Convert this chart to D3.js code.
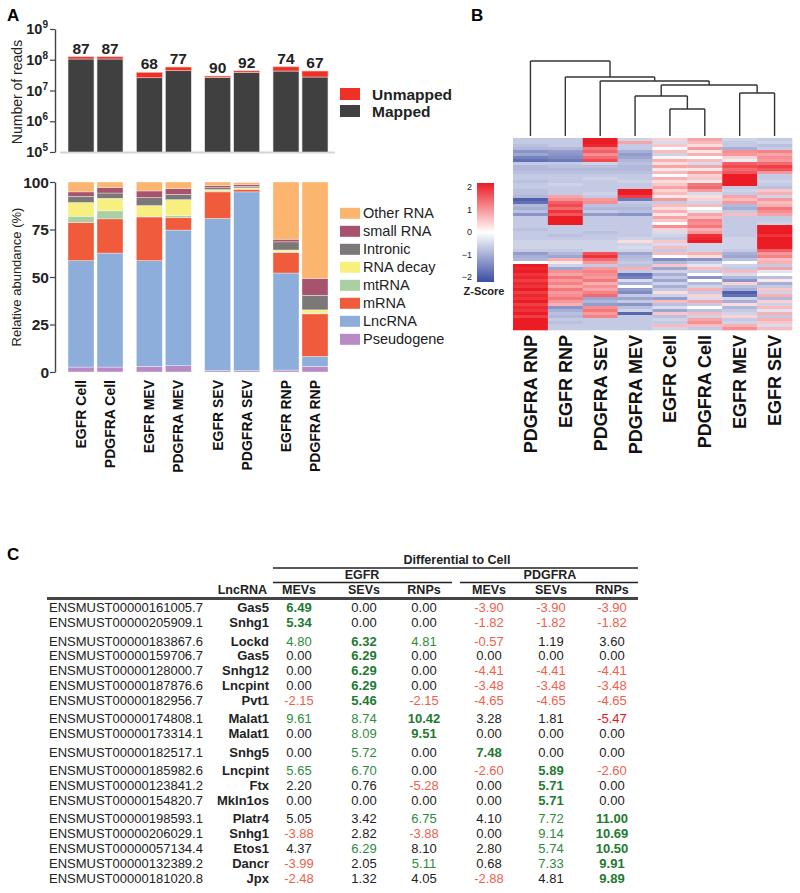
<!DOCTYPE html>
<html><head><meta charset="utf-8">
<script src="https://cdn.jsdelivr.net/npm/d3@7"></script>
<style>body{margin:0;background:#fff;} svg{display:block;font-family:"Liberation Sans",Arial,Helvetica,sans-serif;}</style>
</head><body><svg id="fig" width="800" height="893"></svg>
<script>
// ---------- DATA ----------
const samples = ["EGFR Cell","PDGFRA Cell","EGFR MEV","PDGFRA MEV","EGFR SEV","PDGFRA SEV","EGFR RNP","PDGFRA RNP"];
const sampleGroup = ["Cell","Cell","MEV","MEV","SEV","SEV","RNP","RNP"];
const groups = ["Cell","MEV","SEV","RNP"];
const mappedReads = [1.06e8,1.06e8,2.6e7,4.4e7,2.65e7,3.9e7,4.3e7,2.75e7];
const unmappedReads = [1.9e7,1.9e7,1.3e7,1.4e7,0.3e7,0.45e7,1.6e7,1.55e7];
const mappedPct = [87,87,68,77,90,92,74,67];
const readTicks = [1e5,1e6,1e7,1e8,1e9];
const readExps = ["5","6","7","8","9"];

const rnaTypes = ["Pseudogene","LncRNA","mRNA","mtRNA","RNA decay","Intronic","small RNA","Other RNA"];
const pseudogene = [2.6,2.6,3.0,3.3,0.7,0.7,1.0,3.0];
const lncRNA     = [56.0,60.0,55.6,71.4,80.1,94.1,51.1,5.2];
const mRNA       = [20.1,18.0,23.0,6.6,14.0,1.4,10.7,22.4];
const mtRNA      = [3.3,4.2,0.4,1.0,0.5,0.1,0.5,0.4];
const rnaDecay   = [7.2,6.6,5.6,8.4,0.7,0.6,0.9,1.7];
const intronic   = [3.3,2.8,4.2,2.8,1.0,0.8,4.3,7.7];
const smallRNA   = [2.3,3.0,3.5,3.0,1.1,1.1,1.4,8.7];
const otherRNA   = [5.2,2.8,4.7,3.5,1.9,0.9,30.1,50.9];
const rnaColors  = ["#B98BC6","#8DAEDB","#F05C3B","#A9CFA2","#F8F07E","#7B7877","#A8536E","#FCB56E"];
const pctTicks = [0,25,50,75,100];

const heatSamples = ["PDGFRA RNP","EGFR RNP","PDGFRA SEV","PDGFRA MEV","EGFR Cell","PDGFRA Cell","EGFR MEV","EGFR SEV"];
const zScores = [
[-0.6,-0.6,2.2,-0.5,0.4,0.8,-0.5,-0.6],
[-0.6,-0.6,2.1,0.8,-0.4,0.6,-0.6,-0.5],
[-0.7,-0.6,1.9,-0.6,0.5,0.3,-0.6,-0.7],
[-0.8,-0.8,1.2,-0.6,0.0,0.9,-0.9,-0.6],
[-1.2,-1.1,1.4,-0.9,0.6,0.2,1.0,1.1],
[-1.0,-1.2,1.0,-1.1,-0.5,0.7,0.9,0.8],
[-1.4,-1.3,1.3,-1.0,0.1,0.0,0.4,1.0],
[-1.6,-1.5,1.6,-0.8,0.7,0.6,-0.2,0.9],
[-0.6,-0.6,-0.5,-0.7,0.3,-0.4,1.4,1.3],
[-0.8,-0.7,-0.7,-0.8,0.8,0.8,1.6,1.7],
[-0.8,-0.8,-0.8,-0.8,0.2,0.2,1.3,1.5],
[-0.7,-0.7,-0.7,-0.7,0.6,0.9,1.5,0.9],
[-0.6,-0.6,-0.6,-0.6,0.0,0.4,2.0,-0.6],
[-0.6,-0.6,-0.5,-0.6,0.7,0.5,2.2,-0.6],
[-0.7,-0.6,-0.6,-0.5,0.3,0.2,2.2,-0.5],
[-0.6,-0.5,-0.6,-0.6,0.5,1.2,2.1,-0.6],
[-0.6,-0.6,-0.6,-0.6,0.8,1.3,-0.6,-0.7],
[-0.7,-0.6,-0.6,2.1,0.4,0.9,-0.5,0.5],
[-0.7,-0.6,-0.5,2.0,0.6,-0.4,-0.6,0.7],
[-0.8,0.8,-0.6,1.7,0.2,0.3,0.8,-0.5],
[-1.8,1.0,0.9,-1.5,0.9,0.4,0.6,0.9],
[-1.6,1.4,1.0,-0.6,-0.6,-0.5,0.9,0.6],
[-0.8,1.6,-0.7,-0.7,0.6,0.6,-0.8,0.7],
[-0.9,1.3,-0.8,-0.8,0.3,0.0,-0.9,1.2],
[-0.7,1.8,-0.6,-0.7,0.7,-0.3,-0.6,1.0],
[-1.2,1.5,-1.1,-1.2,0.2,0.8,0.6,0.8],
[-0.6,2.2,-0.6,-0.6,0.8,0.6,-0.6,-0.6],
[-0.6,2.3,-0.6,-0.6,0.5,1.1,-0.6,-0.6],
[-0.6,2.2,-0.6,-0.6,0.0,1.0,-0.6,-0.5],
[-0.6,-0.6,-0.6,-0.6,1.0,1.2,-0.6,2.3],
[-0.7,-0.6,-0.6,-0.6,0.4,0.7,-0.6,2.2],
[-0.6,-0.6,-0.7,-0.6,-0.4,0.9,-0.6,2.2],
[-0.6,-0.7,-0.6,-0.6,-0.5,1.8,-0.6,1.8],
[-0.6,-0.6,-0.6,-0.5,-0.6,1.9,-0.5,2.3],
[-0.5,-0.5,-0.5,0.3,0.5,2.0,-0.5,2.3],
[-0.5,-0.5,-0.5,-0.5,-0.4,-0.5,-0.5,2.2],
[-0.5,-0.5,-0.5,-0.4,0.6,-0.5,-0.5,2.3],
[-0.6,-0.6,-0.5,-0.5,-0.6,-0.5,-0.6,1.4],
[-1.1,-0.8,1.5,-1.0,0.6,0.7,-0.9,0.9],
[-0.9,-1.0,1.8,-0.8,0.0,0.3,-1.0,1.1],
[-0.8,0.7,1.3,-0.7,-1.3,-1.2,-0.7,0.6],
[0.0,0.2,0.9,-0.6,-0.8,-0.6,0.0,0.7],
[2.0,-0.5,-0.6,-0.7,0.5,-0.3,-0.5,-0.6],
[1.9,-1.0,0.9,0.7,-1.0,0.6,-0.6,0.8],
[2.0,1.0,1.1,-0.6,-0.5,-0.6,0.6,-0.3],
[1.8,0.8,1.0,-1.6,-0.9,0.0,-0.4,0.0],
[1.9,1.2,0.9,-1.4,-0.6,-1.2,-0.8,-0.7],
[1.7,0.9,1.2,-0.4,-1.0,0.0,-1.2,0.2],
[1.9,1.1,0.7,-0.9,-0.5,-0.8,0.4,-0.9],
[1.8,0.8,1.0,0.0,-0.9,-0.5,-0.7,-0.6],
[2.0,1.2,0.8,-1.1,-0.6,0.7,-0.9,0.5],
[1.7,0.9,1.1,-1.3,0.3,-0.6,-1.8,-0.5],
[1.9,1.0,1.3,-0.6,-0.5,0.4,-1.6,0.7],
[1.8,1.2,-1.0,-1.0,-1.1,-0.4,-0.5,-0.8],
[2.0,0.9,-0.8,-0.6,0.6,0.8,-0.9,0.4],
[1.7,0.7,-1.1,-1.2,-0.7,-0.6,0.3,-0.5],
[1.9,-1.2,1.0,-0.7,-0.4,0.0,-0.8,0.6],
[1.8,-0.9,1.2,-0.5,-1.0,-0.7,-0.6,-0.3],
[2.0,-0.7,0.9,-1.7,0.5,0.6,-0.5,0.7],
[1.7,-0.8,1.1,-0.6,-0.7,-0.5,0.4,-0.6],
[2.2,-0.6,-0.6,-0.6,-0.5,0.8,-0.6,0.7],
[2.3,-0.7,-0.6,-0.6,-0.6,1.0,-0.5,0.5],
[2.2,-0.6,-0.6,-0.6,0.6,0.6,0.7,-0.4],
[2.0,-0.6,-0.6,-0.6,-0.5,-0.6,1.0,0.6]
];
const zTicks = [2,1,0,-1,-2];
// dendrogram merge heights (leaf = column index)
const dendro = {h:7.5, children:[
  {leaf:0},
  {h:5.9, children:[
    {leaf:1},
    {h:5.5, children:[
      {leaf:2},
      {h:5.1, children:[
        {h:4.0, children:[{leaf:3},{h:2.7, children:[{leaf:4},{leaf:5}]}]},
        {h:4.3, children:[{leaf:6},{leaf:7}]}
      ]}
    ]}
  ]}
]};

// table
const ensIds = ["ENSMUST00000161005.7","ENSMUST00000205909.1","ENSMUST00000183867.6","ENSMUST00000159706.7","ENSMUST00000128000.7","ENSMUST00000187876.6","ENSMUST00000182956.7","ENSMUST00000174808.1","ENSMUST00000173314.1","ENSMUST00000182517.1","ENSMUST00000185982.6","ENSMUST00000123841.2","ENSMUST00000154820.7","ENSMUST00000198593.1","ENSMUST00000206029.1","ENSMUST00000057134.4","ENSMUST00000132389.2","ENSMUST00000181020.8"];
const lncNames = ["Gas5","Snhg1","Lockd","Gas5","Snhg12","Lncpint","Pvt1","Malat1","Malat1","Snhg5","Lncpint","Ftx","Mkln1os","Platr4","Snhg1","Etos1","Dancr","Jpx"];
const rowGroup = [0,0,1,1,1,1,1,2,2,3,4,4,4,5,5,5,5,5];
const egfrMEVs   = [6.49,5.34,4.80,0.00,0.00,0.00,-2.15,9.61,0.00,0.00,5.65,2.20,0.00,5.05,-3.88,4.37,-3.99,-2.48];
const egfrSEVs   = [0.00,0.00,6.32,6.29,6.29,6.29,5.46,8.74,8.09,5.72,6.70,0.76,0.00,3.42,2.82,6.29,2.05,1.32];
const egfrRNPs   = [0.00,0.00,4.81,0.00,0.00,0.00,-2.15,10.42,9.51,0.00,0.00,-5.28,0.00,6.75,-3.88,8.10,5.11,4.05];
const pdgfraMEVs = [-3.90,-1.82,-0.57,0.00,-4.41,-3.48,-4.65,3.28,0.00,7.48,-2.60,0.00,0.00,4.10,0.00,2.80,0.68,-2.88];
const pdgfraSEVs = [-3.90,-1.82,1.19,0.00,-4.41,-3.48,-4.65,1.81,0.00,0.00,5.89,5.71,5.71,7.72,9.14,5.74,7.33,4.81];
const pdgfraRNPs = [-3.90,-1.82,3.60,0.00,-4.41,-3.48,-4.65,-5.47,0.00,0.00,-2.60,0.00,0.00,11.00,10.69,10.50,9.91,9.89];
const cellStyles = ["Bkkrrr","Bkkrrr","gBgrkk","kBkkkk","kBkrrr","kBkrrr","rBrrrr","ggBkkR","kgBkkk","kgkBkk","ggkrBr","kkrkBk","kkkkBk","kkgkgB","rkrkgB","kgkkgB","rkgkgB","rkkrkB"];
const colHeaders = ["MEVs","SEVs","RNPs","MEVs","SEVs","RNPs"];

// ---------- DRAW ----------
const svg = d3.select("#fig");

function panelLabel(t,x,y){ svg.append("text").attr("x",x).attr("y",y).attr("font-size",17).attr("font-weight","bold").text(t); }
panelLabel("A",7,21); panelLabel("B",471,21); panelLabel("C",7,560);

// shared x bands
const groupBand = d3.scaleBand().domain(groups).range([68,328]).paddingInner(0.195).paddingOuter(0);
const memberBand = d3.scaleBand().domain([0,1]).range([0,groupBand.bandwidth()]).paddingInner(0.103);
const barX = i => groupBand(sampleGroup[i]) + memberBand(i%2);
const bw = memberBand.bandwidth();

// --- A top: reads ---
const yReads = d3.scaleLog().domain([1e5,1e9]).range([152,29]);
const gTop = svg.append("g");
gTop.append("line").attr("x1",60).attr("x2",335).attr("y1",152.5).attr("y2",152.5).attr("stroke","#d4d4d4").attr("stroke-width",2);
samples.forEach((s,i)=>{
  const tot = mappedReads[i]+unmappedReads[i];
  gTop.append("rect").attr("x",barX(i)).attr("width",bw).attr("y",yReads(mappedReads[i])).attr("height",yReads(1e5)-yReads(mappedReads[i])).attr("fill","#404040").attr("stroke","#e8e8e8").attr("stroke-width",0.6);
  gTop.append("rect").attr("x",barX(i)).attr("width",bw).attr("y",yReads(tot)).attr("height",yReads(mappedReads[i])-yReads(tot)).attr("fill","#EE3124").attr("stroke","#f6c0bb").attr("stroke-width",0.6);
  gTop.append("text").attr("x",barX(i)+bw/2).attr("y",yReads(tot)-3).attr("text-anchor","middle").attr("font-size",15.5).attr("font-weight","bold").attr("fill","#222").text(mappedPct[i]);
});
const axT = gTop.append("g").attr("transform","translate(55,0)").call(d3.axisLeft(yReads).tickValues(readTicks).tickSize(5).tickSizeOuter(0).tickFormat(""));
axT.select(".domain").attr("stroke","#444").attr("stroke-width",1.4);
axT.selectAll(".tick line").attr("stroke","#444").attr("stroke-width",1.2);
readTicks.forEach((t,k)=>{
  const tx = gTop.append("text").attr("x",48).attr("y",yReads(t)+5).attr("text-anchor","end").attr("font-size",14.5).attr("font-weight","bold").attr("fill","#222");
  tx.append("tspan").text("10");
  tx.append("tspan").attr("dy",-6).attr("font-size",10).text(readExps[k]);
});
gTop.append("text").attr("transform","translate(22,92) rotate(-90)").attr("text-anchor","middle").attr("font-size",14).attr("fill","#222").text("Number of reads");
// legend
[["Unmapped","#EE3124",94],["Mapped","#404040",111]].forEach(d=>{
  gTop.append("rect").attr("x",340).attr("y",d[2]-6).attr("width",20).attr("height",12).attr("fill",d[1]);
  gTop.append("text").attr("x",372).attr("y",d[2]+5.5).attr("font-size",15.5).attr("font-weight","bold").attr("fill","#222").text(d[0]);
});

// --- A bottom: composition ---
const yPct = d3.scaleLinear().domain([0,100]).range([372,182]);
const compTable = samples.map((s,i)=>({sample:s,i:i,"Pseudogene":pseudogene[i],"LncRNA":lncRNA[i],"mRNA":mRNA[i],"mtRNA":mtRNA[i],"RNA decay":rnaDecay[i],"Intronic":intronic[i],"small RNA":smallRNA[i],"Other RNA":otherRNA[i]}));
const stacked = d3.stack().keys(rnaTypes)(compTable);
const gBot = svg.append("g");
stacked.forEach((layer,k)=>{
  gBot.selectAll(null).data(layer).enter().append("rect")
    .attr("x",d=>barX(d.data.i)).attr("width",bw)
    .attr("y",d=>yPct(d[1])).attr("height",d=>yPct(d[0])-yPct(d[1]))
    .attr("fill",rnaColors[k]).attr("stroke","#ffffff").attr("stroke-width",0.5).attr("stroke-opacity",0.7);
});
const axB = gBot.append("g").attr("transform","translate(55,0)").call(d3.axisLeft(yPct).tickValues(pctTicks).tickSize(5).tickSizeOuter(0).tickFormat(""));
axB.select(".domain").attr("stroke","#444").attr("stroke-width",1.4);
axB.selectAll(".tick line").attr("stroke","#444").attr("stroke-width",1.2);
pctTicks.forEach(t=>{
  gBot.append("text").attr("x",49).attr("y",yPct(t)+5.5).attr("text-anchor","end").attr("font-size",15.5).attr("font-weight","bold").attr("fill","#222").text(t);
});
gBot.append("text").attr("transform","translate(21,277) rotate(-90)").attr("text-anchor","middle").attr("font-size",13).attr("fill","#222").text("Relative abundance (%)");
samples.forEach((s,i)=>{
  gBot.append("text").attr("transform",`translate(${barX(i)+bw/2+5},380) rotate(-90)`).attr("text-anchor","end").attr("font-size",14).attr("font-weight","bold").attr("fill","#111").text(s);
});
const legendOrder = rnaTypes.slice().reverse();
legendOrder.forEach((t,k)=>{
  const c = rnaColors[rnaTypes.indexOf(t)];
  const cy = 213.3 + k*18;
  gBot.append("rect").attr("x",340).attr("y",cy-5.5).attr("width",20).attr("height",11).attr("fill",c);
  gBot.append("text").attr("x",363).attr("y",cy+5).attr("font-size",14.5).attr("fill","#222").text(t);
});

// --- B heatmap ---
const colorZ = d3.scaleLinear().domain([-2,0,2]).range(["#3B4DA3","#FFFFFF","#EC1C24"]).clamp(true);
const xHeat = d3.scaleBand().domain(heatSamples).range([513,792]);
const yHeat = d3.scaleBand().domain(d3.range(zScores.length)).range([138,330]);
const gH = svg.append("g");
zScores.forEach((row,r)=>{
  row.forEach((v,c)=>{
    gH.append("rect").attr("x",xHeat(heatSamples[c])).attr("y",yHeat(r)).attr("width",xHeat.bandwidth()+0.3).attr("height",yHeat.bandwidth()+0.3).attr("fill",colorZ(v));
  });
});
heatSamples.forEach(s=>{
  gH.append("text").attr("transform",`translate(${xHeat(s)+xHeat.bandwidth()/2+6.5},335) rotate(-90)`).attr("text-anchor","end").attr("font-size",18).attr("font-weight","bold").attr("fill","#111").text(s);
});
// dendrogram
const yD = d3.scaleLinear().domain([0,7.5]).range([136,61]);
const root = d3.hierarchy(dendro);
root.eachAfter(n=>{
  if(n.data.leaf!==undefined){ n.px = xHeat(heatSamples[n.data.leaf])+xHeat.bandwidth()/2; n.py = yD(0); }
  else { n.px = d3.mean(n.children,c=>c.px); n.py = yD(n.data.h); }
});
root.each(n=>{
  if(n.children){
    gH.append("line").attr("x1",n.children[0].px).attr("x2",n.children[1].px).attr("y1",n.py).attr("y2",n.py).attr("stroke","#333").attr("stroke-width",1.4);
    n.children.forEach(c=>{
      gH.append("line").attr("x1",c.px).attr("x2",c.px).attr("y1",c.py).attr("y2",n.py).attr("stroke","#333").attr("stroke-width",1.4);
    });
  }
});
// color bar
const defs = svg.append("defs");
const grad = defs.append("linearGradient").attr("id","zgrad").attr("x1",0).attr("x2",0).attr("y1",0).attr("y2",1);
[2,1,0,-1,-2].forEach((v,k)=>grad.append("stop").attr("offset",(k*25)+"%").attr("stop-color",colorZ(v)));
const yBar = d3.scaleLinear().domain([2,-2]).range([187,277]);
gH.append("rect").attr("x",477).attr("y",183).attr("width",17).attr("height",99).attr("fill","url(#zgrad)");
zTicks.forEach(t=>{
  gH.append("text").attr("x",472).attr("y",yBar(t)+3).attr("text-anchor","end").attr("font-size",9).attr("fill","#222").text(t<0?"\u2212"+Math.abs(t):t);
});
gH.append("text").attr("x",484).attr("y",295).attr("text-anchor","middle").attr("font-size",11).attr("font-weight","bold").attr("fill","#222").text("Z-Score");

// --- C table ---
const gC = svg.append("g").attr("fill","#222");
const colX = [299,364,424,489,551,612];
gC.append("text").attr("x",457).attr("y",564).attr("text-anchor","middle").attr("font-size",12.5).attr("font-weight","bold").text("Differential to Cell");
gC.append("line").attr("x1",273).attr("x2",638).attr("y1",568).attr("y2",568).attr("stroke","#222").attr("stroke-width",1.5);
gC.append("text").attr("x",362).attr("y",579).attr("text-anchor","middle").attr("font-size",12.5).attr("font-weight","bold").text("EGFR");
gC.append("text").attr("x",550).attr("y",579).attr("text-anchor","middle").attr("font-size",12.5).attr("font-weight","bold").text("PDGFRA");
gC.append("line").attr("x1",273).attr("x2",452).attr("y1",582.5).attr("y2",582.5).attr("stroke","#222").attr("stroke-width",1.5);
gC.append("line").attr("x1",460).attr("x2",638).attr("y1",582.5).attr("y2",582.5).attr("stroke","#222").attr("stroke-width",1.5);
gC.append("text").attr("x",267).attr("y",594).attr("text-anchor","end").attr("font-size",12.5).attr("font-weight","bold").text("LncRNA");
colHeaders.forEach((h,k)=>gC.append("text").attr("x",colX[k]).attr("y",594).attr("text-anchor","middle").attr("font-size",12.5).attr("font-weight","bold").text(h));
gC.append("line").attr("x1",47).attr("x2",638).attr("y1",598.5).attr("y2",598.5).attr("stroke","#444").attr("stroke-width",3);

const styleMap = {B:["#1E7A30","bold"],g:["#2E8B3E","normal"],r:["#F0604C","normal"],R:["#E8141B","normal"],k:["#222","normal"]};
const valueCols = [egfrMEVs,egfrSEVs,egfrRNPs,pdgfraMEVs,pdgfraSEVs,pdgfraRNPs];
ensIds.forEach((id,i)=>{
  const g = rowGroup[i];
  const cy = 607.7 + (i-g)*14.85 + g*18.4;
  gC.append("text").attr("x",49).attr("y",cy+4.6).attr("font-size",13).text(id);
  gC.append("text").attr("x",269).attr("y",cy+4.6).attr("text-anchor","end").attr("font-size",13).attr("font-weight","bold").text(lncNames[i]);
  valueCols.forEach((col,k)=>{
    const st = styleMap[cellStyles[i][k]];
    gC.append("text").attr("x",colX[k]).attr("y",cy+4.6).attr("text-anchor","middle").attr("font-size",13)
      .attr("font-weight",st[1]).attr("fill",st[0]).text(col[i].toFixed(2));
  });
});
</script></body></html>
